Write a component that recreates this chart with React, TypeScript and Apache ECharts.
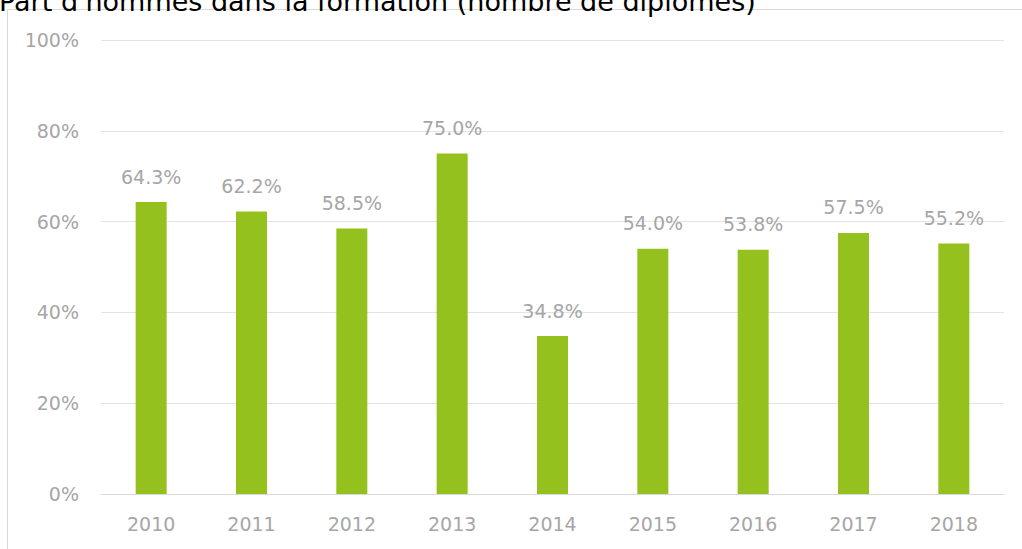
import React, { useEffect, useRef } from "react";
import * as echarts from "echarts";

const categories = ["2010", "2011", "2012", "2013", "2014", "2015", "2016", "2017", "2018"];
const values = [64.3, 62.2, 58.5, 75.0, 34.8, 54.0, 53.8, 57.5, 55.2];
const yTicks = [0, 20, 40, 60, 80, 100];
const titleText = "Part d'hommes dans la formation (nombre de diplômes)";

const FONT = "DejaVu Sans";
const GREY = "#a6a6a6";

export default function App() {
  const ref = useRef<HTMLDivElement>(null);
  useEffect(() => {
    if (!ref.current) return;
    const chart = echarts.init(ref.current, null, { renderer: "svg" });
    chart.setOption({
      animation: false,
      backgroundColor: "#ffffff",
      graphic: [
        {
          type: "rect",
          shape: { x: 7.5, y: 9.5, width: 1030, height: 600 },
          style: { fill: "none", stroke: "#d9d9d9", lineWidth: 1 },
          silent: true,
          z: -1,
        },
        {
          type: "text",
          x: -1,
          y: 1,
          style: {
            text: titleText,
            fontFamily: FONT,
            fontSize: 27,
            fill: "#000000",
            verticalAlign: "middle",
            align: "left",
          },
        },
      ],
      grid: { left: 101, right: 18, top: 40, bottom: 55, containLabel: false },
      xAxis: {
        type: "category",
        data: categories,
        axisLine: { show: true, lineStyle: { color: "#d9d9d9", width: 1 } },
        axisTick: { show: false },
        axisLabel: { color: GREY, fontFamily: FONT, fontSize: 19, margin: 20 },
      },
      yAxis: {
        type: "value",
        min: yTicks[0],
        max: yTicks[yTicks.length - 1],
        interval: 20,
        axisLine: { show: false },
        axisTick: { show: false },
        splitLine: { lineStyle: { color: "#e3e3e3", width: 1 } },
        axisLabel: {
          color: GREY,
          fontFamily: FONT,
          fontSize: 19,
          margin: 22,
          formatter: (v: number) => `${v}%`,
        },
      },
      series: [
        {
          type: "bar",
          data: values,
          barWidth: 31,
          itemStyle: { color: "#95c11f" },
          label: {
            show: true,
            position: "top",
            distance: 16,
            color: GREY,
            fontFamily: FONT,
            fontSize: 19,
            formatter: (p: any) => `${Number(p.value).toFixed(1)}%`,
          },
        },
      ],
    });
    return () => chart.dispose();
  }, []);
  return (
    <div
      ref={ref}
      style={{ position: "absolute", left: 0, top: 0, width: 1022, height: 549 }}
    />
  );
}
